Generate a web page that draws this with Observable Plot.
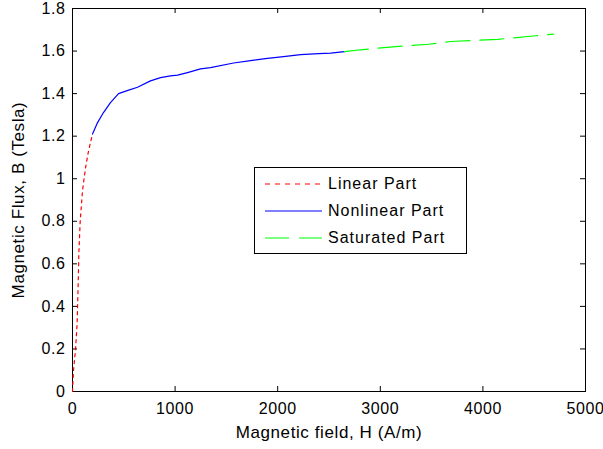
<!DOCTYPE html>
<html>
<head>
<meta charset="utf-8">
<script src="https://cdn.jsdelivr.net/npm/d3@7"></script>
<script src="https://cdn.jsdelivr.net/npm/@observablehq/plot@0.6"></script>
<style>
  html, body { margin: 0; padding: 0; background: #fff; }
  #wrap { position: relative; width: 603px; height: 449px; font-family: "Liberation Sans", Arial, sans-serif; }
  #legend { position: absolute; left: 254px; top: 167px; width: 213px; height: 87px; box-sizing: border-box;
            border: 1px solid #000; background: #fff; font-size: 16px; letter-spacing: 1px; color: #000; }
  .row { position: absolute; left: 0; height: 20px; display: flex; align-items: center; }
  .row svg { margin-left: 10px; margin-right: 6px; }
</style>
</head>
<body>
<div id="wrap"></div>
<script>
const linearH = [0, 10, 30, 45, 55, 62, 75, 97, 107, 130, 156, 175, 195];
const linearB = [0, 0.1, 0.2, 0.32, 0.5, 0.65, 0.8, 0.94, 0.98, 1.06, 1.13, 1.17, 1.21];
const nonlinearH = [195, 240, 302, 370, 449, 540, 634, 760, 858, 955, 1024, 1121, 1248, 1345, 1570, 1735, 1900, 2057, 2223, 2400, 2516, 2650];
const nonlinearB = [1.21, 1.26, 1.311, 1.358, 1.40, 1.415, 1.43, 1.46, 1.475, 1.483, 1.487, 1.499, 1.516, 1.522, 1.544, 1.555, 1.566, 1.574, 1.583, 1.588, 1.59, 1.597];
const saturatedH = [2650, 2808, 3150, 3471, 3686, 4144, 4514, 4690];
const saturatedB = [1.597, 1.606, 1.621, 1.632, 1.645, 1.655, 1.672, 1.68];
const seriesNames = ["Linear Part", "Nonlinear Part", "Saturated Part"];
const seriesColors = ["#ff0000", "#0000ff", "#00ff00"];
const seriesDash = ["3,4", null, "24,10"];
const xTicks = [0, 1000, 2000, 3000, 4000, 5000];
const yTicks = [0, 0.2, 0.4, 0.6, 0.8, 1, 1.2, 1.4, 1.6, 1.8];
const xLabel = "Magnetic field, H (A/m)";
const yLabel = "Magnetic Flux, B (Tesla)";

const zip = (hs, bs) => hs.map((h, i) => ({H: h, B: bs[i]}));
const series = [zip(linearH, linearB), zip(nonlinearH, nonlinearB), zip(saturatedH, saturatedB)];

const W = 603, Hh = 449, mL = 72, mR = 18, mT = 8, mB = 58;
const pw = W - mL - mR, ph = Hh - mT - mB, tk = 5;

const chart = Plot.plot({
  width: W, height: Hh,
  marginLeft: mL, marginRight: mR, marginTop: mT, marginBottom: mB,
  style: {fontFamily: "'Liberation Sans', Arial, sans-serif", fontSize: "16px", color: "#000", background: "#fff"},
  x: {domain: [0, 5000]},
  y: {domain: [0, 1.8]},
  marks: [
    Plot.frame({stroke: "#000", strokeWidth: 1}),
    Plot.axisX(xTicks, {anchor: "bottom", tickSize: 0, tickPadding: 11, fontSize: 16, label: null,
      tickFormat: d => String(d)}),
    Plot.axisY(yTicks, {anchor: "left", tickSize: 0, tickPadding: 7, fontSize: 16, label: null,
      tickFormat: d => String(+d.toFixed(1))}),
    Plot.text([xLabel], {text: d => d, frameAnchor: "bottom", dy: 41, fontSize: 17, lineAnchor: "middle", textAnchor: "middle"}),
    Plot.text([yLabel], {text: d => d, frameAnchor: "left", dx: -54, rotate: -90, fontSize: 17, lineAnchor: "middle", textAnchor: "middle"}),
    Plot.tickX(xTicks, {x: d => d, stroke: "#000", insetTop: ph - tk}),
    Plot.tickX(xTicks, {x: d => d, stroke: "#000", insetBottom: ph - tk}),
    Plot.tickY(yTicks, {y: d => d, stroke: "#000", insetRight: pw - tk}),
    Plot.tickY(yTicks, {y: d => d, stroke: "#000", insetLeft: pw - tk}),
    ...series.map((s, i) => Plot.line(s, {x: "H", y: "B", stroke: seriesColors[i], strokeWidth: 1.2,
      strokeDasharray: seriesDash[i]}))
  ]
});
chart.querySelectorAll("text").forEach(t => {
  const fs = parseFloat(getComputedStyle(t).fontSize);
  t.setAttribute("letter-spacing", fs >= 17 ? "0.8" : "0.6");
});
const wrap = document.getElementById("wrap");
wrap.appendChild(chart);

const legend = document.createElement("div");
legend.id = "legend";
seriesNames.forEach((name, i) => {
  const row = document.createElement("div");
  row.className = "row";
  row.style.top = (6 + i * 27) + "px";
  row.innerHTML = `<svg width="57" height="4"><line x1="0" y1="2" x2="57" y2="2" stroke="${seriesColors[i]}" stroke-width="1.2" ${seriesDash[i] ? `stroke-dasharray="${i === 0 ? '5,5' : '24,10'}"` : ""}/></svg><span>${name}</span>`;
  legend.appendChild(row);
});
wrap.appendChild(legend);
</script>
</body>
</html>
